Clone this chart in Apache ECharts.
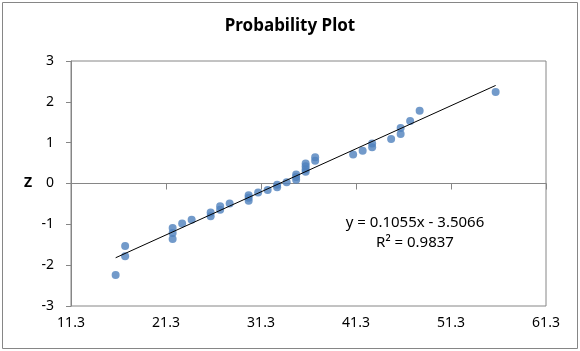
<!DOCTYPE html>
<html>
<head>
<meta charset="utf-8">
<script src="https://cdn.jsdelivr.net/npm/echarts@6/dist/echarts.min.js"></script>
<style>html,body{margin:0;padding:0;background:#fff;}#c{width:580px;height:351px;}</style>
</head>
<body>
<div id="c"></div>
<script>
var xValues = [16, 17, 17, 22, 22, 22, 23, 24, 26, 26, 27, 27, 28, 30, 30, 30, 31, 32, 33, 33, 34, 35, 35, 35, 36, 36, 36, 36, 37, 37, 41, 42, 43, 43, 45, 46, 46, 47, 48, 56];
var zValues = [-2.24, -1.78, -1.53, -1.36, -1.21, -1.09, -0.98, -0.89, -0.80, -0.71, -0.64, -0.56, -0.49, -0.42, -0.35, -0.285, -0.22, -0.157, -0.094, -0.031, 0.031, 0.094, 0.157, 0.22, 0.285, 0.35, 0.42, 0.49, 0.56, 0.64, 0.71, 0.80, 0.89, 0.98, 1.09, 1.21, 1.36, 1.53, 1.78, 2.24];
var trendSlope = 0.1055;
var trendIntercept = -3.5066;
var rSquared = 0.9837;
var xTickLabels = ['11.3', '21.3', '31.3', '41.3', '51.3', '61.3'];
var yTickLabels = ['-3', '-2', '-1', '0', '1', '2', '3'];
var titleText = 'Probability Plot';
var yAxisTitle = 'Z';

var points = xValues.map(function (x, i) { return [x, zValues[i]]; });
var xMinData = Math.min.apply(null, xValues), xMaxData = Math.max.apply(null, xValues);
var trendPts = [[xMinData, trendSlope * xMinData + trendIntercept], [xMaxData, trendSlope * xMaxData + trendIntercept]];

var FONT = 'Noto Sans';
var chart = echarts.init(document.getElementById('c'), null, {renderer: 'canvas'});
chart.setOption({
  animation: false,
  backgroundColor: '#fff',
  title: {
    text: titleText, left: 'center', top: 13,
    textStyle: {fontFamily: FONT, fontSize: 17, fontWeight: 'bold', color: '#000'}
  },
  grid: {left: 71, right: 34, top: 61, bottom: 45, show: true, borderColor: '#868686', borderWidth: 1},
  xAxis: {
    type: 'value', min: 11.3, max: 61.3, interval: 10,
    axisLine: {show: true, lineStyle: {color: '#868686'}},
    axisTick: {show: true, length: 6, lineStyle: {color: '#868686'}},
    splitLine: {show: false},
    axisLabel: {
      fontFamily: FONT, fontSize: 14, color: '#000', margin: 10,
      formatter: function (v) { var i = Math.round((v - 11.3) / 10); return xTickLabels[i] !== undefined ? xTickLabels[i] : ''; }
    }
  },
  yAxis: {
    type: 'value', min: -3, max: 3, interval: 1,
    name: yAxisTitle, nameLocation: 'middle', nameRotate: 0, nameGap: 39,
    nameTextStyle: {fontFamily: FONT, fontSize: 14, fontWeight: 'bold', color: '#000'},
    axisLine: {show: true, lineStyle: {color: '#868686'}},
    axisTick: {show: true, length: 5, lineStyle: {color: '#868686'}},
    splitLine: {show: false},
    axisLabel: {
      fontFamily: FONT, fontSize: 14, color: '#000', margin: 17,
      formatter: function (v) { var i = Math.round(v + 3); return yTickLabels[i] !== undefined ? yTickLabels[i] : ''; }
    }
  },
  series: [
    {
      type: 'line', data: trendPts, symbol: 'none', silent: true,
      lineStyle: {color: '#000', width: 1}, z: 3
    },
    {
      type: 'scatter', data: points, symbolSize: 8,
      itemStyle: {color: '#4F81BD'}, z: 2
    }
  ],
  graphic: [
    {type: 'rect', shape: {x: 2.5, y: 2.5, width: 575, height: 346}, style: {fill: 'none', stroke: '#868686', lineWidth: 1}, silent: true},
    {type: 'text', x: 415, y: 223, style: {text: 'y = ' + trendSlope + 'x - ' + Math.abs(trendIntercept), font: '15px "Noto Sans"', fill: '#000', textAlign: 'center', textVerticalAlign: 'middle'}},
    {type: 'text', x: 415, y: 243, style: {text: 'R\u00b2 = ' + rSquared, font: '15px "Noto Sans"', fill: '#000', textAlign: 'center', textVerticalAlign: 'middle'}}
  ]
});
</script>
</body>
</html>
